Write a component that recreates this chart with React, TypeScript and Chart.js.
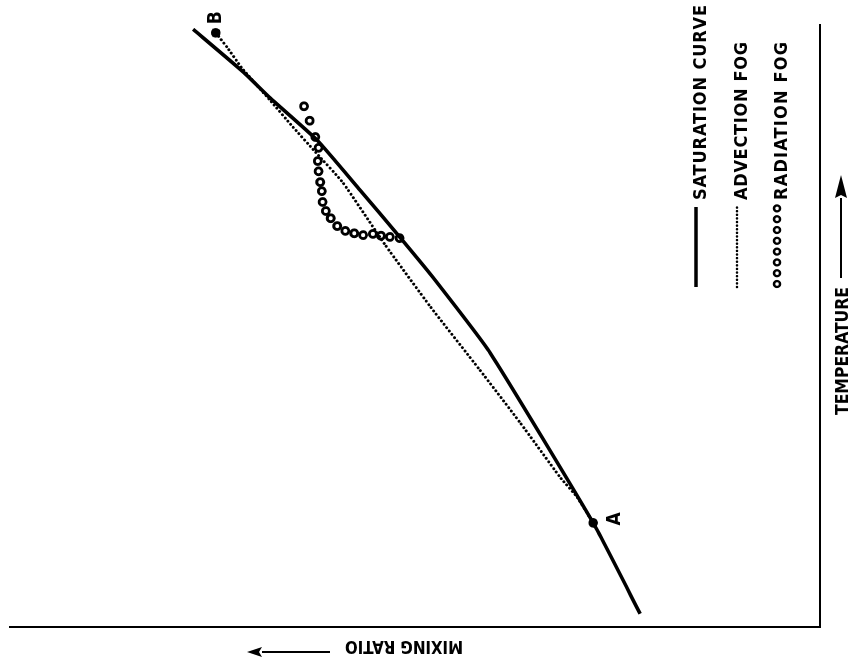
import React, { useEffect, useRef } from 'react';
import { Chart, registerables } from 'chart.js';

Chart.register(...registerables);

// Saturation curve (temperature, mixing ratio) – arbitrary 0–100 units
const satTemp = [2.2, 17.3, 45.5, 58.1, 64.8, 72.6, 80.9, 87.9, 92.2, 99.3];
const satMix = [22.2, 28.0, 40.7, 47.8, 51.9, 56.8, 62.1, 67.9, 71.2, 77.4];

// Advection fog path from A to B
const advTemp = [17.3, 21.6, 24.9, 33.9, 42.7, 53.2, 63.5, 73.8, 78.9, 83.1, 87.5, 92.9, 96.3, 98.7];
const advMix = [28.0, 30.0, 32.1, 37.0, 42.0, 48.1, 53.7, 58.9, 62.3, 65.1, 67.9, 71.4, 73.2, 74.6];

// Radiation fog path
const radTemp = [64.6, 64.8, 65.0, 65.3, 65.1, 65.4, 65.8, 66.6, 67.9, 69.1, 70.6, 72.4, 73.9, 75.7, 77.4, 79.6, 81.4, 84.1, 86.5];
const radMix = [51.9, 53.1, 54.2, 55.2, 56.4, 57.5, 58.6, 59.6, 60.4, 61.0, 61.4, 61.5, 61.7, 61.9, 62.0, 61.9, 62.3, 63.0, 63.7];

const seriesNames = ['SATURATION CURVE', 'ADVECTION FOG', 'RADIATION FOG'];
const pointLabels = ['A', 'B'];
const axisTitles = ['TEMPERATURE', 'MIXING RATIO'];

const FONT = '"Liberation Sans Narrow", "DejaVu Sans Condensed", "Liberation Sans", Arial, sans-serif';

function spacedText(ctx: CanvasRenderingContext2D, text: string, target: number) {
  const c: any = ctx;
  if ('letterSpacing' in c) c.letterSpacing = '0px';
  const w = ctx.measureText(text).width;
  if (w < target && 'letterSpacing' in c) {
    c.letterSpacing = ((target - w) / (text.length - 1)).toFixed(2) + 'px';
    ctx.fillText(text, 0, 0);
    c.letterSpacing = '0px';
  } else {
    ctx.save();
    ctx.scale(target / w, 1);
    ctx.fillText(text, 0, 0);
    ctx.restore();
  }
}

function arrow(ctx: CanvasRenderingContext2D, x0: number, y0: number, x1: number, y1: number, headLen: number, headHalf: number, lw: number) {
  const ang = Math.atan2(y1 - y0, x1 - x0);
  const ux = Math.cos(ang), uy = Math.sin(ang);
  const bx = x1 - ux * headLen, by = y1 - uy * headLen;
  ctx.save();
  ctx.strokeStyle = '#000';
  ctx.fillStyle = '#000';
  ctx.lineWidth = lw;
  ctx.beginPath();
  ctx.moveTo(x0, y0);
  ctx.lineTo(bx, by);
  ctx.stroke();
  ctx.beginPath();
  ctx.moveTo(x1, y1);
  ctx.lineTo(bx - uy * headHalf, by + ux * headHalf);
  ctx.lineTo(bx + ux * 3, by + uy * 3);
  ctx.lineTo(bx + uy * headHalf, by - ux * headHalf);
  ctx.closePath();
  ctx.fill();
  ctx.restore();
}

const decorPlugin = {
  id: 'decor',
  afterDraw(chart: any) {
    const ctx: CanvasRenderingContext2D = chart.ctx;
    const xs = chart.scales.x;
    const ys = chart.scales.y;
    const ca = chart.chartArea;
    ctx.save();
    ctx.fillStyle = '#000';
    ctx.textBaseline = 'alphabetic';
    ctx.textAlign = 'left';

    // Legend
    const legX0 = ca.left + 340;
    const legX1 = legX0 + 80;
    const textX = legX1 + 7;
    const rowY = [ca.bottom - 121, ca.bottom - 80, ca.bottom - 40];
    const widths = [195, 158, 158];
    ctx.font = 'bold 18px ' + FONT;
    ctx.strokeStyle = '#000';
    ctx.lineWidth = 3.6;
    ctx.beginPath();
    ctx.moveTo(legX0, rowY[0] - 3);
    ctx.lineTo(legX1, rowY[0] - 3);
    ctx.stroke();
    ctx.save();
    ctx.lineWidth = 2.6;
    ctx.lineCap = 'round';
    ctx.setLineDash([0.01, 3.6]);
    ctx.beginPath();
    ctx.moveTo(legX0, rowY[1] - 3);
    ctx.lineTo(legX1, rowY[1] - 3);
    ctx.stroke();
    ctx.restore();
    ctx.save();
    ctx.lineWidth = 2.3;
    for (let i = 0; i < 8; i++) {
      ctx.beginPath();
      ctx.arc(legX0 + 3 + i * 10.8, rowY[2] - 3, 3, 0, Math.PI * 2);
      ctx.fillStyle = '#fff';
      ctx.fill();
      ctx.stroke();
    }
    ctx.restore();
    ctx.fillStyle = '#000';
    for (let i = 0; i < 3; i++) {
      ctx.save();
      ctx.translate(textX, rowY[i] + 6.5);
      spacedText(ctx, seriesNames[i], widths[i]);
      ctx.restore();
    }

    // Temperature title and arrow
    const tY = ca.bottom + 21;
    ctx.save();
    ctx.translate(ca.left + 212, tY + 6.5);
    spacedText(ctx, axisTitles[0], 128);
    ctx.restore();
    arrow(ctx, ca.left + 349, tY, ca.left + 452, tY, 23, 6, 2);

    // Mixing ratio title and arrow (rotated)
    const mX = ca.left - 21;
    ctx.save();
    ctx.translate(mX + 6.5, ys.top + 453);
    ctx.rotate(-Math.PI / 2);
    spacedText(ctx, axisTitles[1], 118);
    ctx.restore();
    arrow(ctx, mX - 4, ys.top + 320, mX - 4, ys.top + 237, 15, 5, 2);

    // Point labels A and B
    ctx.font = 'bold 19px ' + FONT;
    ctx.textAlign = 'center';
    const ax = xs.getPixelForValue(advTemp[0]);
    const ay = ys.getPixelForValue(advMix[0]);
    ctx.fillText(pointLabels[0], ax + 4, ay + 27);
    const bx = xs.getPixelForValue(advTemp[advTemp.length - 1]);
    const by = ys.getPixelForValue(advMix[advMix.length - 1]);
    ctx.textBaseline = 'middle';
    ctx.fillText(pointLabels[1], bx + 15, by);
    ctx.restore();
  },
};

export default function App() {
  const ref = useRef<HTMLCanvasElement>(null);
  useEffect(() => {
    const canvas = ref.current!;
    const lastAdv = advTemp.length - 1;
    const chart = new Chart(canvas, {
      type: 'scatter',
      data: {
        datasets: [
          {
            label: seriesNames[0],
            data: satTemp.map((t, i) => ({ x: t, y: satMix[i] })),
            showLine: true,
            borderColor: '#000',
            borderWidth: 3.6,
            pointRadius: 0,
            tension: 0.15,
            clip: false,
          } as any,
          {
            label: seriesNames[1],
            data: advTemp.map((t, i) => ({ x: t, y: advMix[i] })),
            showLine: true,
            borderColor: '#000',
            borderWidth: 3,
            borderDash: [0.01, 4.2],
            borderCapStyle: 'round',
            pointRadius: (c: any) => (c.dataIndex === 0 || c.dataIndex === lastAdv ? 4.8 : 0),
            pointBackgroundColor: '#000',
            pointBorderColor: '#000',
            pointBorderWidth: 0,
            tension: 0.15,
            clip: false,
          } as any,
          {
            label: seriesNames[2],
            data: radTemp.map((t, i) => ({ x: t, y: radMix[i] })),
            showLine: false,
            pointRadius: 3.5,
            pointBorderWidth: 2.8,
            pointBorderColor: '#000',
            pointBackgroundColor: '#fff',
            clip: false,
          } as any,
        ],
      },
      options: {
        responsive: false,
        animation: false,
        events: [],
        layout: { padding: { left: 41, right: 25, top: 10, bottom: 38 } },
        plugins: {
          legend: { display: false },
          tooltip: { enabled: false },
          title: { display: false },
        },
        scales: {
          x: {
            type: 'linear',
            min: 0,
            max: 100,
            grid: { display: false, drawTicks: false },
            ticks: { display: false },
            border: { display: true, color: '#000', width: 2 },
          },
          y: {
            type: 'linear',
            min: 0,
            max: 100,
            grid: { display: false, drawTicks: false },
            ticks: { display: false },
            border: { display: true, color: '#000', width: 2 },
          },
        },
      } as any,
      plugins: [decorPlugin],
    });
    return () => chart.destroy();
  }, []);
  return (
    <div
      style={{
        position: 'fixed',
        left: 0,
        top: 0,
        width: 668,
        height: 858,
        transformOrigin: '0 0',
        transform: 'translate(0px, 668px) rotate(-90deg)',
        background: '#fff',
      }}
    >
      <canvas ref={ref} width={668} height={858} style={{ display: 'block', width: 668, height: 858 }} />
    </div>
  );
}
